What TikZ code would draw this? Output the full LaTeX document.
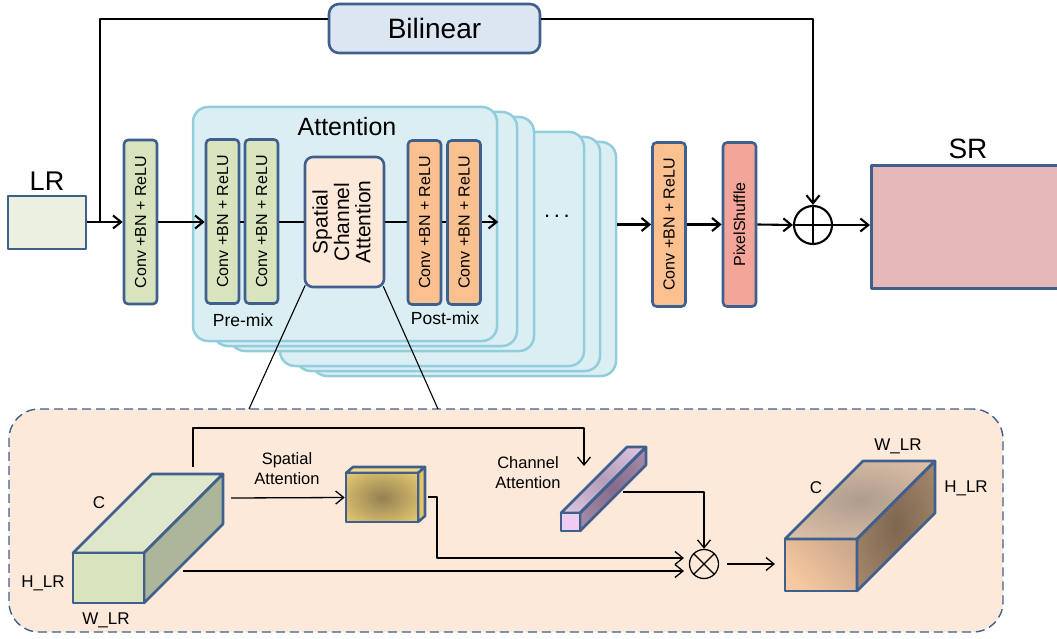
\documentclass[tikz,border=0pt]{standalone}
\usepackage{fontspec}
\usepackage{graphicx}
\setmainfont{Liberation Sans}
\usetikzlibrary{arrows.meta,calc}

% palette
\definecolor{edge}{HTML}{3F5F8C}
\definecolor{panelfill}{HTML}{DAEEF3}
\definecolor{panelline}{HTML}{92CDDC}
\definecolor{cgreen}{HTML}{D7E4BD}
\definecolor{corange}{HTML}{FAC090}
\definecolor{cpink}{HTML}{F2A598}
\definecolor{srfill}{HTML}{E6B8B7}
\definecolor{lrfill}{HTML}{EBF1DE}
\definecolor{bilfill}{HTML}{DCE6F2}
\definecolor{scafill}{HTML}{FDE9D9}
\definecolor{detailfill}{HTML}{FDE9DA}
\definecolor{gtop}{HTML}{DEE7CA}
\definecolor{gside}{HTML}{ADB698}
\definecolor{yin}{HTML}{948052}
\definecolor{yout}{HTML}{F1D578}
\definecolor{ytop}{HTML}{F3DA82}
\definecolor{yside}{HTML}{E3C366}
\definecolor{pfront}{HTML}{EFCDF0}
\definecolor{ptopin}{HTML}{B39DB8}
\definecolor{ptopout}{HTML}{E9D3EF}
\definecolor{psidein}{HTML}{866B8A}
\definecolor{psideout}{HTML}{B398B6}
\definecolor{btopin}{HTML}{AE9C8E}
\definecolor{btopout}{HTML}{EACBAE}
\definecolor{bsidein}{HTML}{7E664F}
\definecolor{bsideout}{HTML}{B8987B}
\definecolor{bfrontlo}{HTML}{F6C9A0}
\definecolor{bfronthi}{HTML}{CFA98D}

% soft radial spots for the feature maps
\pgfdeclareradialshading{yelspot}{\pgfpoint{0bp}{0bp}}{color(0bp)=(yin); color(40bp)=(yout); color(50bp)=(yout)}
\pgfdeclareradialshading{purtop}{\pgfpoint{0bp}{0bp}}{color(0bp)=(ptopin); color(45bp)=(ptopout); color(50bp)=(ptopout)}
\pgfdeclareradialshading{purside}{\pgfpoint{0bp}{0bp}}{color(0bp)=(psidein); color(45bp)=(psideout); color(50bp)=(psideout)}
\pgfdeclareradialshading{brtop}{\pgfpoint{0bp}{0bp}}{color(0bp)=(btopin); color(42bp)=(btopout); color(50bp)=(btopout)}
\pgfdeclareradialshading{brside}{\pgfpoint{0bp}{0bp}}{color(0bp)=(bsidein); color(50bp)=(bsideout)}

\begin{document}
\begin{tikzpicture}[x=1pt,y=-1pt,line join=round,
  arr/.style={-{Straight Barb[length=8pt,width=13pt]}},
  mainline/.style={line width=2.1pt,black},
  thinline/.style={line width=1.3pt,black},
  panel/.style={draw=panelline,fill=panelfill,line width=2.5pt,rounded corners=15pt,
    minimum width=304pt,minimum height=234pt,inner sep=0pt},
  blk/.style={draw=edge,line width=2.6pt,rounded corners=4pt,inner sep=0pt,
    minimum width=33pt,minimum height=164pt,font=\fontsize{16}{19}\selectfont},
  cube/.style={draw=edge,line width=2.6pt},
  lbl/.style={font=\fontsize{16.5}{20}\selectfont,align=center,inner sep=0pt},
  dimlbl/.style={font=\fontsize{17}{20}\selectfont,inner sep=0pt}]
\useasboundingbox (0,0) rectangle (1057,639);

% ---------- stacked attention blocks (back to front) ----------
\foreach \dx/\dy/\n in {119/35/p6,103/30/p5,87/25/p4,37/10/p3,20/5/p2,0/0/p1}
  \node[panel] (\n) at (345+\dx,224+\dy) {};
\node[font=\fontsize{25}{30}\selectfont,inner sep=0pt] (attn) at (347,127) {Attention};
\node[font=\fontsize{17.5}{21}\selectfont,inner sep=0pt] (pre) at (243,320) {Pre-mix};
\node[font=\fontsize{17.5}{21}\selectfont,inner sep=0pt] (post) at (445,318) {Post-mix};
\node[font=\fontsize{22}{26}\selectfont,inner sep=0pt] (dots) at (557,216) {.\,.\,.};

% ---------- main pipeline ----------
\node[draw=edge,fill=lrfill,line width=2.6pt,minimum width=78pt,minimum height=53pt,inner sep=0pt] (lr) at (47,222.5) {};
\node[font=\fontsize{27}{32}\selectfont,anchor=base,inner sep=0pt] (lrlab) at (47,190) {LR};

\node[blk,fill=cgreen] (c1) at (140.5,222) {\rotatebox{90}{Conv +BN + ReLU}};
\node[blk,fill=cgreen] (c2) at (222.5,221.5) {\rotatebox{90}{Conv +BN + ReLU}};
\node[blk,fill=cgreen] (c3) at (261.5,221.5) {\rotatebox{90}{Conv +BN + ReLU}};
\node[draw=edge,fill=scafill,line width=2.6pt,rounded corners=8pt,inner sep=0pt,
  minimum width=79pt,minimum height=130pt,font=\fontsize{21}{20.5}\selectfont] (sca) at (344.5,222)
  {\rotatebox{90}{\begin{tabular}{@{}c@{}}Spatial\\Channel\\Attention\end{tabular}}};
\node[blk,fill=corange] (c4) at (424.5,222.5) {\rotatebox{90}{Conv +BN + ReLU}};
\node[blk,fill=corange] (c5) at (464,222.5) {\rotatebox{90}{Conv +BN + ReLU}};

\node[blk,fill=corange] (c6) at (669,224.5) {\rotatebox{90}{Conv +BN + ReLU}};
\node[blk,fill=cpink] (ps) at (739.5,224.5) {\rotatebox{90}{PixelShuffle}};
\node[circle,draw,line width=2.1pt,minimum size=38pt,inner sep=0pt] (plus) at (813,225) {};
\draw[mainline] (plus.north) -- (plus.south) (plus.west) -- (plus.east);
\node[draw=edge,fill=srfill,line width=2.6pt,minimum width=192pt,minimum height=123pt,
  anchor=north west,inner sep=0pt] (sr) at (870,164) {};
\node[font=\fontsize{28}{33}\selectfont,anchor=base,inner sep=0pt] (srlab) at (968,159) {SR};

\node[draw=edge,fill=bilfill,line width=2.6pt,rounded corners=10pt,inner sep=0pt,
  minimum width=211pt,minimum height=49pt,font=\fontsize{28}{33}\selectfont] (bil) at (434.5,28.5) {Bilinear};

% connectors of the pipeline
\coordinate (split) at (100,222);
\draw[mainline,arr] (lr.east |- split) -- (c1.west |- split);
\draw[mainline] (split) |- ([yshift=9.5pt]bil.west);
\draw[mainline,arr] ([yshift=9.5pt]bil.east) -| (plus.north);
\draw[mainline,arr] (c1.east |- split) -- (c2.west |- split);
\draw[mainline] (c2.east |- split) -- (c3.west |- split)
                (c3.east |- split) -- (sca.west |- split)
                (sca.east |- split) -- (c4.west |- split)
                (c4.east |- split) -- (c5.west |- split);
\draw[mainline,arr] (c5.east |- split) -- (p1.east |- split);
\draw[mainline,arr] (p6.east |- c6.west) -- (c6.west);
\draw[mainline,arr] (c6.east) -- (ps.west);
\draw[mainline,arr] (ps.east) -- (plus.west);
\draw[mainline,arr] (plus.east) -- (plus.east -| sr.west);

% ---------- detail of the spatial-channel attention ----------
\node[draw=edge,dash pattern=on 9pt off 5pt,line width=1.4pt,fill=detailfill,
  rounded corners=30pt,minimum width=994pt,minimum height=223pt,inner sep=0pt] (detail) at (506,520.5) {};
\coordinate (zl) at (249,409);
\coordinate (zr) at (438,409);
\draw[line width=1.1pt] ($(sca.south west)+(1.5,-3)$) -- (zl);
\draw[line width=1.1pt] ($(sca.south east)+(-2,-2)$) -- (zr);

% input feature map
\filldraw[cube,fill=gtop] (73,553) -- (152,474) -- (223,474) -- (144,553) -- cycle;
\filldraw[cube,fill=gside] (144,553) -- (223,474) -- (223,524) -- (144,603) -- cycle;
\node[cube,fill=cgreen,minimum width=71pt,minimum height=50pt,inner sep=0pt] (gin) at (108.5,578) {};
\node[dimlbl] (gc) at (99,503) {C};
\node[dimlbl] (gh) at (43,583) {H\_LR};
\node[dimlbl] (gw) at (106,620) {W\_LR};

% spatial attention map
\filldraw[cube,fill=ytop] (346,473) -- (353,467) -- (425,467) -- (418,473) -- cycle;
\filldraw[cube,fill=yside] (418,473) -- (425,467) -- (425,516) -- (418,522) -- cycle;
\node[cube,shade,shading=yelspot,minimum width=72pt,minimum height=49pt,inner sep=0pt] (yel) at (382,497.5) {};
\node[lbl] (spl) at (287,469) {Spatial\\Attention};

% channel attention vector
\shade[shading=purtop] (561,513) -- (627,447) -- (646,447) -- (580,513) -- cycle;
\shade[shading=purside] (580,513) -- (646,447) -- (646,465) -- (580,531) -- cycle;
\draw[cube] (561,513) -- (627,447) -- (646,447) -- (580,513) -- cycle;
\draw[cube] (580,513) -- (646,447) -- (646,465) -- (580,531) -- cycle;
\node[cube,fill=pfront,minimum width=19pt,minimum height=18pt,inner sep=0pt] (pur) at (570.5,522) {};
\node[lbl] (chl) at (528,473) {Channel\\Attention};

% output feature map
\shade[shading=brtop] (785,539) -- (863,461) -- (935,461) -- (857,539) -- cycle;
\shade[shading=brside] (857,539) -- (935,461) -- (935,513) -- (857,591) -- cycle;
\shade[top color=bfronthi,bottom color=bfrontlo,shading angle=-45] (785,539) rectangle (857,591);
\draw[cube] (785,539) -- (863,461) -- (935,461) -- (857,539) -- cycle;
\draw[cube] (857,539) -- (935,461) -- (935,513) -- (857,591) -- cycle;
\node[cube,minimum width=72pt,minimum height=52pt,inner sep=0pt] (bout) at (821,565) {};
\node[dimlbl] (bw) at (898,446) {W\_LR};
\node[dimlbl] (bc) at (816,488) {C};
\node[dimlbl] (bh) at (966,488) {H\_LR};

% element-wise product
\node[circle,draw,line width=1.3pt,minimum size=29pt,inner sep=0pt] (mul) at (704,564) {};
\draw[thinline] (mul.north east) -- (mul.south west) (mul.north west) -- (mul.south east);

% detail connectors
\coordinate (gtopc) at (193,467);
\coordinate (cain) at (584,466);
\coordinate (gspa) at (231,498);
\coordinate (yout) at (428,497);
\coordinate (gout) at (183,571);
\coordinate (pout) at (623,492);
\coordinate (mulin) at (684,558);
\coordinate (bin) at (775,564);
\draw[thinline,arr] (gtopc) |- (391,428) -| (cain);
\draw[thinline,arr] (gspa) -- (yel.west);
\draw[thinline,arr] (yout) -- (437,497) |- (mulin);
\draw[thinline,arr] (gout) -- (gout -| mulin);
\draw[thinline,arr] (pout) -| (mul.north);
\draw[thinline,arr] ($(mul.east)+(8,0)$) -- (bin);
\end{tikzpicture}
\end{document}
